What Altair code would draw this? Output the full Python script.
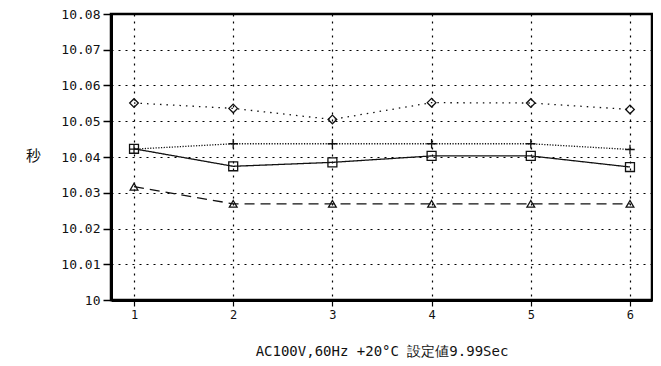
import altair as alt
import pandas as pd

x_vals = [1, 2, 3, 4, 5, 6]
diamond_vals = [10.0551, 10.0536, 10.0505, 10.0552, 10.0551, 10.0533]
plus_vals = [10.0422, 10.0437, 10.0437, 10.0437, 10.0437, 10.0421]
square_vals = [10.0423, 10.0374, 10.0385, 10.0403, 10.0403, 10.0372]
triangle_vals = [10.0317, 10.0269, 10.0269, 10.0269, 10.0269, 10.0269]
y_ticks = [10.0, 10.01, 10.02, 10.03, 10.04, 10.05, 10.06, 10.07, 10.08]
x_title = "AC100V,60Hz +20°C 設定値9.99Sec"
y_title = "秒"

rows = []
for name, vals in [("diamond", diamond_vals), ("plus", plus_vals),
                   ("square", square_vals), ("triangle", triangle_vals)]:
    for xv, yv in zip(x_vals, vals):
        rows.append({"x": xv, "y": yv, "series": name})
df = pd.DataFrame(rows)

MONO = "DejaVu Sans Mono"

X = alt.X("x:Q",
          scale=alt.Scale(domain=[0.768, 6.222], nice=False, zero=False),
          axis=alt.Axis(values=x_vals, title=x_title, format="d",
                        grid=True, gridDash=[2, 5], gridColor="#000", gridWidth=1.2,
                        domainColor="#000", domainWidth=3,
                        tickColor="#000", tickSize=6, tickWidth=1.2,
                        labelFont=MONO, labelFontSize=12, labelColor="#111",
                        labelPadding=3,
                        titleFont=MONO, titleFontSize=14, titleFontWeight="normal",
                        titleColor="#111", titlePadding=24))
Y = alt.Y("y:Q",
          scale=alt.Scale(domain=[10.0, 10.08], nice=False, zero=False),
          axis=alt.Axis(values=y_ticks,
                        labelExpr="datum.value == 10 ? '10' : format(datum.value, '.2f')",
                        grid=True, gridDash=[2, 5], gridColor="#000", gridWidth=1.2,
                        domainColor="#000", domainWidth=3,
                        tickColor="#000", tickSize=8, tickWidth=1.5,
                        labelFont=MONO, labelFontSize=13, labelColor="#111",
                        labelPadding=3,
                        title=y_title, titleAngle=0, titleX=-78, titleY=141,
                        titleAlign="center", titleBaseline="middle",
                        titleFont="Noto Sans CJK JP", titleFontSize=15,
                        titleFontWeight="normal", titleColor="#111"))

styles = {
    "diamond": dict(dash=[1.5, 5], shape="diamond", size=75),
    "plus": dict(dash=[1.2, 1.5], shape="M-1,0L1,0M0,-1L0,1", size=90),
    "square": dict(dash=[1, 0], shape="square", size=80),
    "triangle": dict(dash=[10, 6], shape="triangle-up", size=60),
}

layers = []
for name, st in styles.items():
    base = alt.Chart(df).transform_filter(alt.datum.series == name)
    layers.append(base.mark_line(color="#111", strokeWidth=1.3,
                                 strokeDash=st["dash"]).encode(x=X, y=Y))
    layers.append(base.mark_point(shape=st["shape"], size=st["size"], filled=False,
                                  color="#111", strokeWidth=1.3,
                                  opacity=1).encode(x=X, y=Y))

chart = alt.layer(*layers).properties(
    width=541, height=286,
    autosize="none",
    padding={"left": 103, "top": 6, "right": 1, "bottom": 58},
    background="white",
).configure_view(stroke="#000", strokeWidth=2.5)

chart.save("out.html", embed_options={"renderer": "svg", "actions": False})
